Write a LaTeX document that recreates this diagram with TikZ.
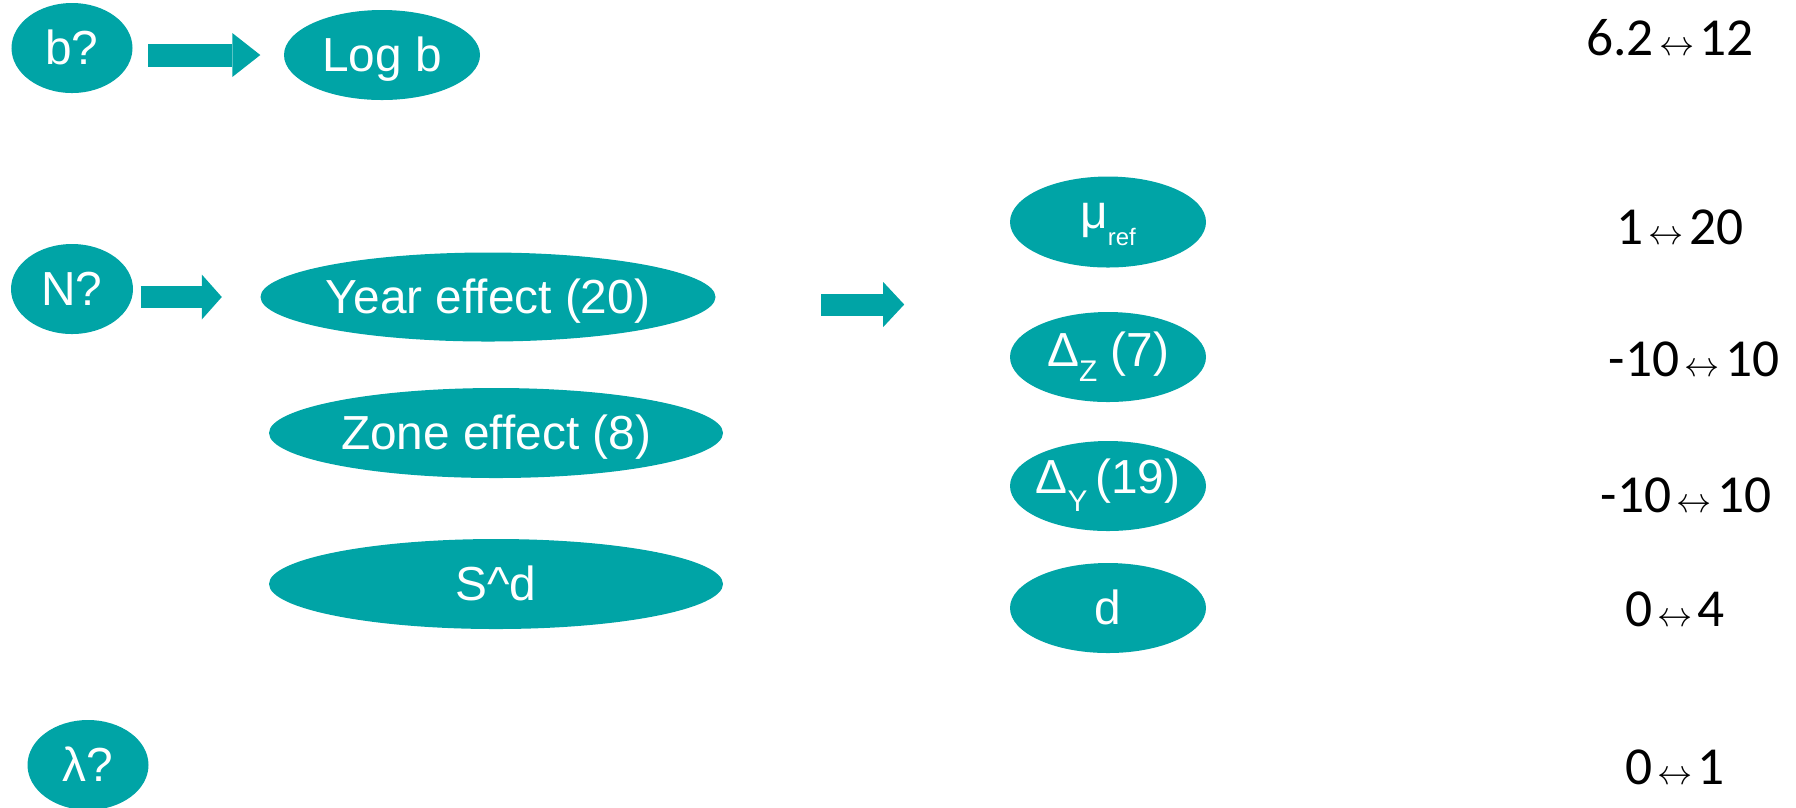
\documentclass[tikz,border=0pt]{standalone}
\usepackage{fontspec}
\setmainfont{Liberation Sans}
\newfontfamily\rangefont{Carlito}
\usetikzlibrary{shapes.geometric,arrows.meta,calc}
\definecolor{tealfill}{RGB}{0,164,166}
\newcommand\lra{\kern1.5pt{\fontsize{10}{10}\selectfont$\leftrightarrow$}\kern1.5pt}
\newcommand\lowsub[3]{\raisebox{-#1}{\fontsize{#2}{#2}\selectfont #3}}
\begin{document}
\begin{tikzpicture}[font=\fontsize{13.6}{16}\selectfont,
  oval/.style={ellipse,fill=tealfill,text=white,inner sep=0pt,
               minimum width=#1,minimum height=0.9cm,
               text height=3.9mm,text depth=0.6mm},
  oval/.default=1.96cm,
  bigarrow/.style={draw=tealfill,line width=2.2mm},
  rangetext/.style={anchor=base,font=\rangefont\fontsize{15.2}{18}\selectfont}]
  \useasboundingbox (0,0) rectangle (17.96,-8.07);
  % left column
  \node[oval=1.21cm] (bq)   at (0.72,-0.48) {b?};
  \node[oval]        (logb) at (3.82,-0.55) {Log b};
  \node[oval=1.22cm] (nq)   at (0.72,-2.89) {N?};
  \node[oval=1.21cm] (lam)  at (0.88,-7.65) {λ?};
  % effects
  \node[oval=4.55cm,minimum height=0.89cm] (year) at (4.88,-2.97)
    {\makebox[0pt]{Year effect (20)}};
  \node[oval=4.54cm] (zone) at (4.96,-4.33) {\makebox[0pt]{Zone effect (8)}};
  \node[oval=4.54cm] (sd)   at (4.96,-5.84) {S\^{}d};
  % parameters
  \node[oval,minimum height=0.91cm,text height=1.8mm] (mu) at (11.08,-2.22)
    {μ\lowsub{1.7mm}{6.8}{ref}};
  \node[oval,text height=2.5mm] (dz) at (11.08,-3.57)
    {\makebox[0pt]{Δ\lowsub{1.5mm}{8.5}{Z} (7)}};
  \node[oval,text height=2.1mm] (dy) at (11.08,-4.86)
    {\makebox[0pt]{Δ\lowsub{1.8mm}{8.5}{Y}\,(19)}};
  \node[oval] (dd) at (11.08,-6.08) {d};
  % ranges
  \node[rangetext] (rb)   at (16.70,-0.55) {6.2\lra 12};
  \node[rangetext] (rmu)  at (16.80,-2.44) {1\lra 20};
  \node[rangetext] (rdz)  at (16.94,-3.76) {-10\lra 10};
  \node[rangetext] (rdy)  at (16.86,-5.12) {-10\lra 10};
  \node[rangetext] (rd)   at (16.75,-6.26) {0\lra 4};
  \node[rangetext] (rlam) at (16.75,-7.84) {0\lra 1};
  % block arrows
  \draw[bigarrow,line width=2.3mm,-{Triangle[length=2.8mm,width=4.4mm,line width=0pt]}]
    ($(bq.east |- logb.west)+(0.15,0)$) -- ($(logb.west)+(-0.23,0)$);
  \draw[bigarrow,-{Triangle[length=2mm,width=4.5mm,line width=0pt]}]
    ($(nq.east |- year.west)+(0.07,0)$) -- ($(year.west)+(-0.38,0)$);
  \draw[bigarrow,-{Triangle[length=2.1mm,width=4.5mm,line width=0pt]}]
    ($(year.east)+(1.05,-0.075)$) -- ($(year.east)+(1.88,-0.075)$);
\end{tikzpicture}
\end{document}
